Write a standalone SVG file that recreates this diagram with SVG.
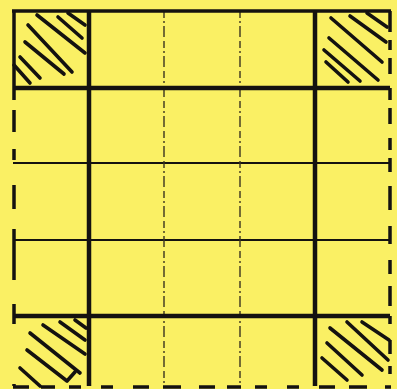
<svg xmlns="http://www.w3.org/2000/svg" width="397" height="389" viewBox="0 0 397 389">
<style>
.bg{fill:#FAF064}
.thick{stroke:#141210;stroke-width:4.5;fill:none}
.thin{stroke:#141210;stroke-width:2.2;fill:none}
.dashv{stroke:#3a3420;stroke-width:1.4;fill:none;stroke-dasharray:7 3 2 3 11 4}
.edge{stroke:#141210;stroke-width:3.5;fill:none;stroke-linecap:butt}
.hatch{stroke:#141210;stroke-width:3.6;fill:none;stroke-linecap:round;stroke-linejoin:round}
</style>
<rect class="bg" x="0" y="0" width="397" height="389"/>
<g id="grid">
  <line class="thin" x1="13" y1="163" x2="390" y2="163"/>
  <line class="thin" x1="13" y1="240" x2="390" y2="240"/>
  <line class="dashv" x1="164" y1="11" x2="164" y2="386"/>
  <line class="dashv" x1="240" y1="11" x2="240" y2="386"/>
  <line class="thick" x1="13" y1="88" x2="390" y2="88"/>
  <line class="thick" x1="13" y1="316" x2="390" y2="316"/>
  <line class="thick" x1="89" y1="11" x2="89" y2="386"/>
  <line class="thick" x1="315" y1="11" x2="315" y2="386"/>
</g>
<g id="border">
  <line class="edge" x1="12" y1="11" x2="391" y2="11"/>
  <line class="edge" x1="14" y1="11" x2="14" y2="88"/>
  <line class="edge" x1="14" y1="88" x2="14" y2="386" stroke-dasharray="12 10 22 17 11 25 24 20 51 24 20 60"/>
  <line class="edge" x1="390" y1="11" x2="390" y2="32"/>
  <line class="edge" x1="390" y1="40" x2="390" y2="386" stroke-dasharray="10 8 16 14 12 8 16 14 12 8 14 14 24 16 18 16 14 12 20"/>
  <line class="edge" x1="13" y1="387" x2="391" y2="387" stroke-dasharray="16 12 14 14 12 20 12 20 16 14 18 18"/>
</g>
<g id="corner-tl">
  <line class="hatch" x1="37" y1="15" x2="85" y2="53"/>
  <line class="hatch" x1="58" y1="17" x2="82" y2="38"/>
  <line class="hatch" x1="68" y1="13" x2="85" y2="25"/>
  <line class="hatch" x1="28" y1="25" x2="72" y2="72"/>
  <line class="hatch" x1="25" y1="42" x2="64" y2="74"/>
  <line class="hatch" x1="20" y1="57" x2="40" y2="78"/>
  <line class="hatch" x1="14" y1="65" x2="30" y2="83"/>
</g>
<g id="corner-tr">
  <line class="hatch" x1="331" y1="18" x2="382" y2="62"/>
  <line class="hatch" x1="350" y1="16" x2="386" y2="42"/>
  <line class="hatch" x1="367" y1="13" x2="387" y2="27"/>
  <line class="hatch" x1="329" y1="38" x2="378" y2="80"/>
  <line class="hatch" x1="324" y1="50" x2="360" y2="81"/>
  <line class="hatch" x1="326" y1="62" x2="348" y2="82"/>
</g>
<g id="corner-bl">
  <line class="hatch" x1="43" y1="325" x2="85" y2="354"/>
  <line class="hatch" x1="60" y1="322" x2="85" y2="340"/>
  <line class="hatch" x1="75" y1="320" x2="86" y2="328"/>
  <line class="hatch" x1="30" y1="333" x2="80" y2="373"/>
  <path class="hatch" d="M27 350 L67 381 L75 372"/>
  <line class="hatch" x1="20" y1="368" x2="40" y2="386"/>
</g>
<g id="corner-br">
  <line class="hatch" x1="347" y1="322" x2="388" y2="360"/>
  <line class="hatch" x1="362" y1="322" x2="389" y2="340"/>
  <line class="hatch" x1="330" y1="328" x2="382" y2="370"/>
  <line class="hatch" x1="327" y1="343" x2="362" y2="375"/>
  <line class="hatch" x1="322" y1="358" x2="347" y2="380"/>
</g>
</svg>
